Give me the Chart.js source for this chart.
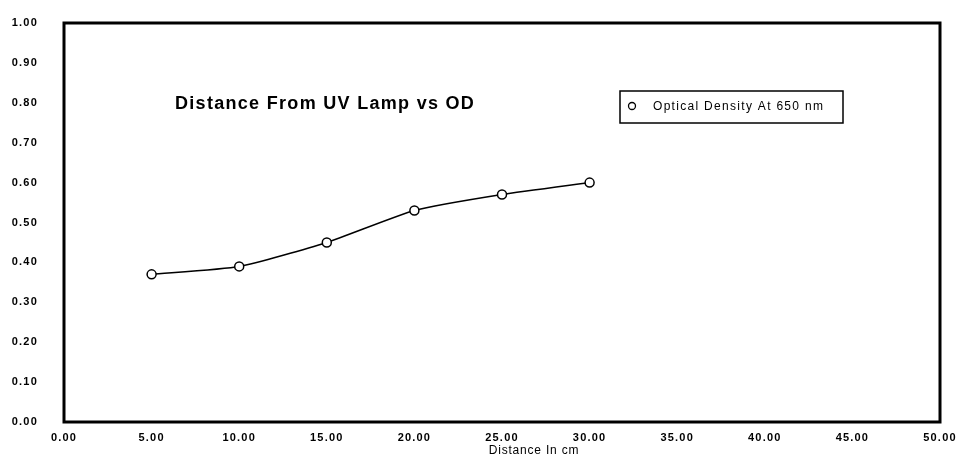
<!DOCTYPE html>
<html>
<head>
<meta charset="utf-8">
<script src="https://cdn.jsdelivr.net/npm/chart.js@4/dist/chart.umd.min.js"></script>
<style>
  html, body { margin: 0; padding: 0; background: #fff; }
  #wrap { width: 965px; height: 462px; }
</style>
</head>
<body>
<div id="wrap"><canvas id="c" width="965" height="462"></canvas></div>
<script>
const chartTitle = "Distance From UV Lamp vs OD";
const seriesLabel = "Optical Density At 650 nm";
const xAxisTitle = "Distance In cm";
const distances = [5, 10, 15, 20, 25, 30];
const opticalDensity = [0.37, 0.39, 0.45, 0.53, 0.57, 0.60];
const xMin = 0, xMax = 50, xStep = 5;
const yMin = 0, yMax = 1, yStep = 0.1;

const points = distances.map((d, i) => ({ x: d, y: opticalDensity[i] }));

const spacing = {
  id: 'spacing',
  beforeDraw(chart) { chart.ctx.letterSpacing = '1.2px'; },
  afterDatasetsDraw(chart) { chart.ctx.letterSpacing = '0px'; }
};

const decor = {
  id: 'decor',
  afterDraw(chart) {
    const ctx = chart.ctx;
    const a = chart.chartArea;
    ctx.save();
    // frame
    ctx.strokeStyle = '#000';
    ctx.lineWidth = 3;
    ctx.strokeRect(a.left, a.top, a.right - a.left, a.bottom - a.top);
    // title inside plot
    ctx.fillStyle = '#000';
    ctx.font = 'bold 18px "Liberation Sans", Arial, sans-serif';
    ctx.letterSpacing = '1.3px';
    ctx.textBaseline = 'middle';
    ctx.textAlign = 'left';
    ctx.fillText(chartTitle, 175, 104);
    // legend box
    ctx.lineWidth = 1.5;
    ctx.strokeRect(620, 91, 223, 32);
    ctx.beginPath();
    ctx.arc(632, 106, 3.5, 0, Math.PI * 2);
    ctx.fillStyle = '#fff';
    ctx.fill();
    ctx.lineWidth = 1.3;
    ctx.stroke();
    ctx.fillStyle = '#000';
    ctx.letterSpacing = '1.3px';
    ctx.font = '12px "Liberation Sans", Arial, sans-serif';
    ctx.fillText(seriesLabel, 653, 107);
    // x axis title
    ctx.textAlign = 'center';
    ctx.letterSpacing = '0.8px';
    ctx.font = '12px "Liberation Sans", Arial, sans-serif';
    ctx.fillText(xAxisTitle, 534, 451);
    ctx.restore();
  }
};

new Chart(document.getElementById('c'), {
  type: 'line',
  data: {
    datasets: [{
      label: seriesLabel,
      data: points,
      borderColor: '#000',
      borderWidth: 1.5,
      backgroundColor: '#fff',
      pointBackgroundColor: '#fff',
      pointBorderColor: '#000',
      pointBorderWidth: 1.5,
      pointRadius: 4.5,
      tension: 0.18,
      fill: false
    }]
  },
  options: {
    responsive: false,
    animation: false,
    layout: { padding: { top: 23, right: 25, left: 0, bottom: 0 } },
    plugins: { legend: { display: false }, title: { display: false }, tooltip: { enabled: false } },
    scales: {
      x: {
        type: 'linear', min: xMin, max: xMax,
        grid: { display: false, drawTicks: false },
        border: { display: false },
        ticks: {
          stepSize: xStep, padding: 9, color: '#000', maxRotation: 0, autoSkip: false,
          font: { family: '"Liberation Sans", Arial, sans-serif', size: 11, weight: 'bold' },
          callback: v => Number(v).toFixed(2)
        },
        afterFit: s => { s.height = 40; }
      },
      y: {
        type: 'linear', min: yMin, max: yMax,
        grid: { display: false, drawTicks: false },
        border: { display: false },
        ticks: {
          stepSize: yStep, padding: 26, color: '#000', autoSkip: false,
          font: { family: '"Liberation Sans", Arial, sans-serif', size: 11, weight: 'bold' },
          callback: v => Number(v).toFixed(2)
        },
        afterFit: s => { s.width = 64; s.paddingTop = 0; s.paddingBottom = 0; }
      }
    }
  },
  plugins: [spacing, decor]
});
</script>
</body>
</html>
